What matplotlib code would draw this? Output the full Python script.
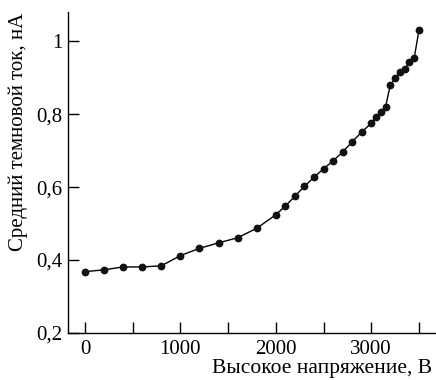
import matplotlib
matplotlib.use("Agg")
import matplotlib.pyplot as plt

# voltage (V) and mean dark current (nA)
voltage = [0, 200, 400, 600, 800, 1000, 1200, 1400, 1600, 1800, 2000, 2100,
           2200, 2300, 2400, 2500, 2600, 2700, 2800, 2900, 3000, 3050, 3100,
           3150, 3200, 3250, 3300, 3350, 3400, 3450, 3500]
current = [0.368, 0.373, 0.381, 0.381, 0.384, 0.412, 0.432, 0.447, 0.461, 0.487,
           0.524, 0.548, 0.575, 0.602, 0.627, 0.650, 0.672, 0.696, 0.724, 0.751,
           0.775, 0.791, 0.806, 0.820, 0.880, 0.898, 0.915, 0.924, 0.943, 0.953,
           1.030]

x_ticks = [0, 500, 1000, 1500, 2000, 2500, 3000, 3500]
x_labels = ['0', '', '1000', '', '2000', '', '3000', '']
y_ticks = [0.2, 0.4, 0.6, 0.8, 1.0]
y_labels = ['0,2', '0,4', '0,6', '0,8', '1']

plt.rcParams['font.family'] = ['Liberation Serif', 'DejaVu Serif']
plt.rcParams['font.size'] = 15

fig = plt.figure(figsize=(4.36, 3.80), dpi=100)
ax = fig.add_axes([0.156, 0.124, 0.842, 0.844])

ax.plot(voltage, current, '-', color='black', linewidth=1.0,
        marker='o', markersize=4.6, markerfacecolor='#111111', markeredgecolor='#111111')

ax.set_xlim(-178, 3670)
ax.set_ylim(0.2, 1.08)
ax.set_xticks(x_ticks)
ax.set_xticklabels(x_labels)
ax.set_yticks(y_ticks)
ax.set_yticklabels(y_labels)

for side in ['top', 'right']:
    ax.spines[side].set_visible(False)
for side in ['left', 'bottom']:
    ax.spines[side].set_linewidth(1.0)

ax.tick_params(direction='in', length=8, width=1.0, labelsize=15)
ax.tick_params(axis='x', pad=5)
ax.tick_params(axis='y', pad=4)

fig.text(18 / 436, 1 - 132 / 380, 'Средний темновой ток, нА', rotation=90,
         ha='center', va='center', fontsize=15)
fig.text(432 / 436, 1 - 369 / 380, 'Высокое напряжение, В',
         ha='right', va='center', fontsize=15.5)

fig.savefig('out.png', dpi=100)
